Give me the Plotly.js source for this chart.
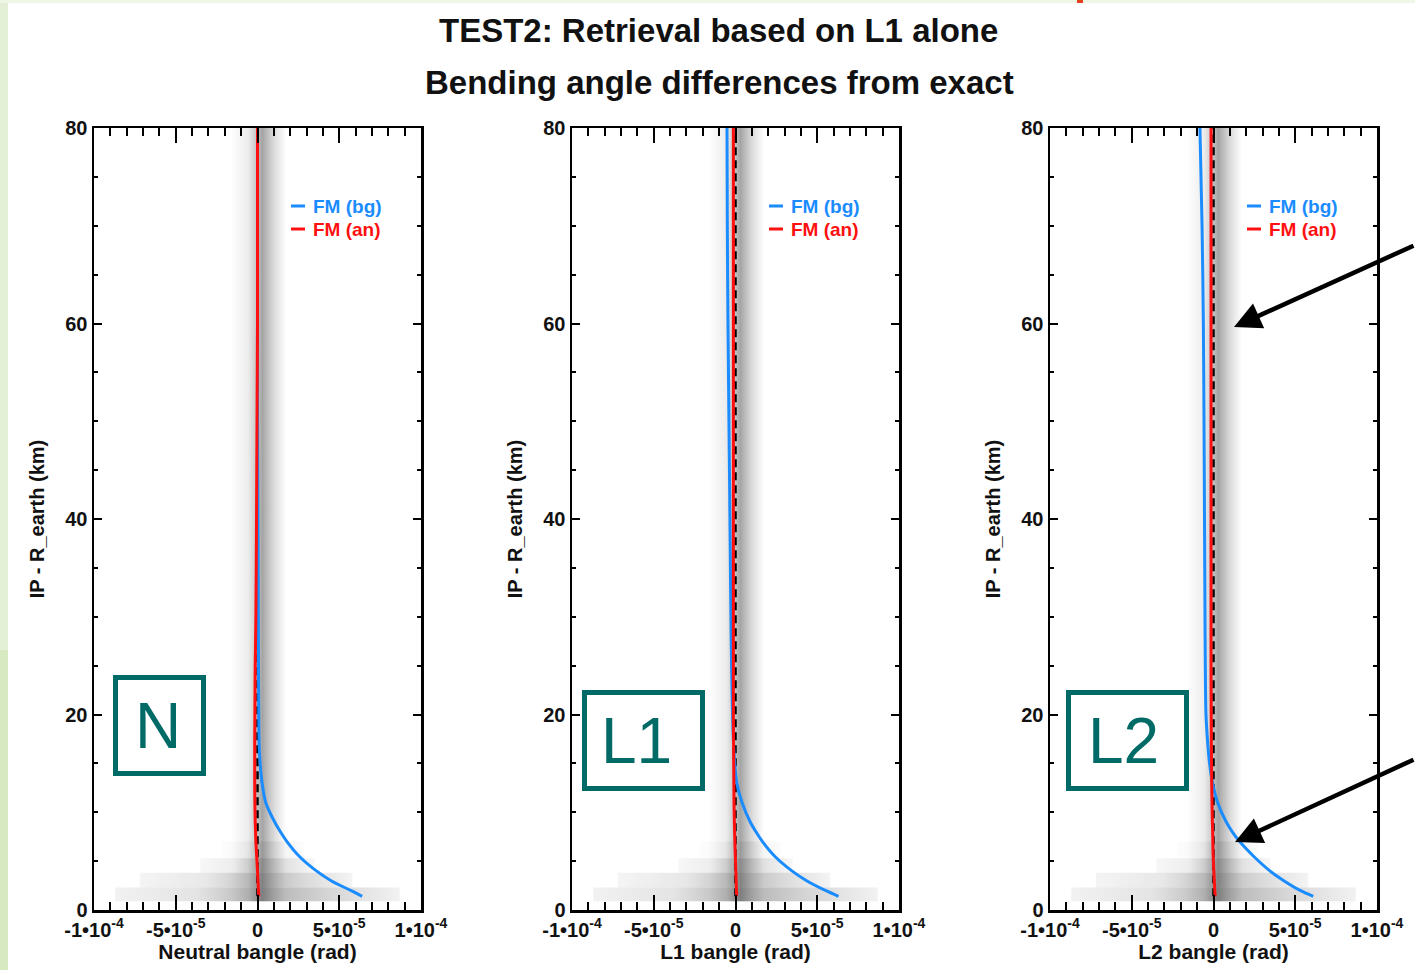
<!DOCTYPE html>
<html>
<head>
<meta charset="utf-8">
<script src="https://cdn.plot.ly/plotly-3.0.1.min.js"></script>
<style>
  html, body { margin: 0; padding: 0; background: #ffffff; }
  #chart { width: 1415px; height: 970px; }
</style>
</head>
<body>
<div id="chart"></div>
<script>
// ---------------- data ----------------
const altKm = [80, 70, 60, 50, 40, 30, 25, 20, 17, 15, 13, 11, 9, 8, 7, 5.5, 4, 3, 2, 1.4];

const nBg  = [0, 0, 0, 0, 0.3e-6, 0.5e-6, 0.6e-6, 0.8e-6, 1.0e-6, 1.6e-6, 2.8e-6, 5.0e-6, 1.05e-5, 1.4e-5, 1.8e-5, 2.55e-5, 3.6e-5, 4.5e-5, 5.7e-5, 6.4e-5];
const nAn  = [0, 0, 0, -0.3e-6, -0.6e-6, -1.0e-6, -1.4e-6, -1.6e-6, -1.7e-6, -1.7e-6, -1.7e-6, -1.6e-6, -1.4e-6, -1.2e-6, -1.0e-6, -0.5e-6, 0, 0.3e-6, 0.6e-6, 0.8e-6];

const l1Bg = [-5.2e-6, -5.0e-6, -4.6e-6, -4.0e-6, -3.4e-6, -2.8e-6, -2.4e-6, -1.8e-6, -1.2e-6, -0.5e-6, 0.8e-6, 4.0e-6, 9.0e-6, 1.25e-5, 1.65e-5, 2.4e-5, 3.45e-5, 4.35e-5, 5.5e-5, 6.3e-5];
const l1An = [-1.3e-6, -1.3e-6, -1.3e-6, -1.3e-6, -1.3e-6, -1.3e-6, -1.3e-6, -1.3e-6, -1.2e-6, -1.1e-6, -1.0e-6, -0.9e-6, -0.7e-6, -0.55e-6, -0.4e-6, -0.1e-6, 0.2e-6, 0.4e-6, 0.6e-6, 0.7e-6];

const l2Bg = [-8.3e-6, -7.0e-6, -6.2e-6, -5.8e-6, -5.5e-6, -5.2e-6, -5.0e-6, -4.6e-6, -3.5e-6, -2.4e-6, -0.6e-6, 2.5e-6, 7.8e-6, 1.15e-5, 1.6e-5, 2.45e-5, 3.45e-5, 4.3e-5, 5.3e-5, 6.1e-5];
const l2An = [-1.5e-6, -1.5e-6, -1.5e-6, -1.5e-6, -1.5e-6, -1.5e-6, -1.5e-6, -1.4e-6, -1.3e-6, -1.2e-6, -1.1e-6, -0.9e-6, -0.7e-6, -0.5e-6, -0.4e-6, -0.2e-6, 0.2e-6, 0.5e-6, 0.8e-6, 1.0e-6];

const zeroAlt = [1.4, 80];
const zeroVal = [0, 0];

// grey noise shading (vertical band + low-altitude bands)
const vBandAlt = [0.9, 80];
const vBandX = [-1.65e-5, 1.75e-5];
const noisePeak = 3e-6;
const bandY0 = [0.9, 2.3, 3.8, 5.3];
const bandY1 = [2.3, 3.8, 5.3, 7.0];
const bandX0 = [-8.7e-5, -7.2e-5, -3.5e-5, -2.2e-5];
const bandX1 = [8.7e-5, 5.8e-5, 3.5e-5, 2.8e-5];
const bandPeakAlpha = [0.5, 0.45, 0.35, 0.15];
const bandEdgeAlpha = [0.1, 0.08, 0.06, 0.02];

const xTickVals = [-1e-4, -5e-5, 0, 5e-5, 1e-4];
const xTickText = ['-1•10<sup>-4</sup>', '-5•10<sup>-5</sup>', '0', '5•10<sup>-5</sup>', '1•10<sup>-4</sup>'];

const panelLabels = ['N', 'L1', 'L2'];
const panelXTitles = ['Neutral bangle (rad)', 'L1 bangle (rad)', 'L2 bangle (rad)'];
const seriesNames = ['FM (bg)', 'FM (an)'];
const titleLines = ['TEST2: Retrieval based on L1 alone', 'Bending angle differences from exact'];
const yTitle = 'IP - R_earth (km)';

const panelBg = [nBg, l1Bg, l2Bg];
const panelAn = [nAn, l1An, l2An];

// ---------------- layout helpers ----------------
const W = 1415, H = 970;
const px = v => v / W;
const py = v => 1 - v / H;
const BLUE = '#1a8cff';
const RED = '#ff1010';
const TEAL = '#006b66';
const FONT = 'Liberation Sans, Arial, sans-serif';

const panelLeft = [94, 572, 1050];
const panelWidth = 327;
const plotTop = 128, plotBottom = 910;

const traces = [];
const rgba = (g, a) => `rgba(${g},${g},${g},${a})`;

function gradTrace(ax, x0, x1, y0, y1, peakA, edgeA) {
  const p = Math.min(0.95, Math.max(0.05, (noisePeak - x0) / (x1 - x0)));
  return {
    type: 'scatter', mode: 'lines',
    x: [x0, x1, x1, x0, x0], y: [y0, y0, y1, y1, y0],
    fill: 'toself', line: { width: 0, color: 'rgba(0,0,0,0)' },
    fillgradient: {
      type: 'horizontal',
      colorscale: [
        [0, rgba(120, edgeA)],
        [p * 0.55, rgba(120, edgeA + (peakA - edgeA) * 0.25)],
        [p, rgba(90, peakA)],
        [p + (1 - p) * 0.5, rgba(110, edgeA + (peakA - edgeA) * 0.45)],
        [1, rgba(120, edgeA)]
      ]
    },
    xaxis: 'x' + ax, yaxis: 'y' + ax, hoverinfo: 'skip', showlegend: false
  };
}

for (let i = 0; i < 3; i++) {
  const ax = i === 0 ? '' : String(i + 1);
  traces.push(gradTrace(ax, vBandX[0], vBandX[1], vBandAlt[0], vBandAlt[1], 0.55, 0.0));
  for (let b = 0; b < bandY0.length; b++) {
    traces.push(gradTrace(ax, bandX0[b], bandX1[b], bandY0[b], bandY1[b], bandPeakAlpha[b], bandEdgeAlpha[b]));
  }
  traces.push({
    type: 'scatter', mode: 'lines', x: zeroVal, y: zeroAlt,
    line: { color: '#000000', width: 2.5, dash: '8px,5px' },
    xaxis: 'x' + ax, yaxis: 'y' + ax, hoverinfo: 'skip', showlegend: false
  });
  traces.push({
    type: 'scatter', mode: 'lines', name: seriesNames[0], x: panelBg[i], y: altKm,
    line: { color: BLUE, width: 3, shape: 'spline', smoothing: 0.8 },
    xaxis: 'x' + ax, yaxis: 'y' + ax, showlegend: false
  });
  traces.push({
    type: 'scatter', mode: 'lines', name: seriesNames[1], x: panelAn[i], y: altKm,
    line: { color: RED, width: 3, shape: 'spline', smoothing: 0.8 },
    xaxis: 'x' + ax, yaxis: 'y' + ax, showlegend: false
  });
}

const layout = {
  width: W, height: H,
  margin: { l: 0, r: 0, t: 0, b: 0 },
  paper_bgcolor: '#ffffff', plot_bgcolor: '#ffffff',
  font: { family: FONT, color: '#111111' },
  showlegend: false,
  shapes: [],
  annotations: []
};

for (let i = 0; i < 3; i++) {
  const ax = i === 0 ? '' : String(i + 1);
  const xd = [px(panelLeft[i]), px(panelLeft[i] + panelWidth)];
  layout['xaxis' + ax] = {
    domain: xd, range: [-1e-4, 1e-4], anchor: 'y' + ax,
    showgrid: false, zeroline: false,
    showline: true, linecolor: '#000000', linewidth: 2.5, mirror: 'ticks',
    ticks: 'inside', ticklen: 15, tickwidth: 2, tickcolor: '#000000',
    tickvals: xTickVals, ticktext: xTickText,
    tickfont: { family: FONT, size: 20, weight: 700, color: '#111111' },
    minor: { dtick: 1e-5, tick0: 0, ticks: 'inside', ticklen: 8, tickwidth: 2, tickcolor: '#000000', showgrid: false },
    title: { text: panelXTitles[i], standoff: 2, font: { family: FONT, size: 21, weight: 700, color: '#111111' } },
    fixedrange: true
  };
  layout['yaxis' + ax] = {
    domain: [py(plotBottom), py(plotTop)], range: [0, 80], anchor: 'x' + ax,
    showgrid: false, zeroline: false,
    showline: true, linecolor: '#000000', linewidth: 2.5, mirror: 'ticks',
    ticks: 'inside', ticklen: 8, tickwidth: 2, tickcolor: '#000000',
    dtick: 20, tick0: 0,
    tickfont: { family: FONT, size: 20, weight: 700, color: '#111111' },
    minor: { dtick: 5, tick0: 0, ticks: 'inside', ticklen: 4, tickwidth: 2, tickcolor: '#000000', showgrid: false },
    title: { text: yTitle, standoff: 16, font: { family: FONT, size: 20, weight: 700, color: '#111111' } },
    fixedrange: true
  };

  // legend-like labels (short line + text)
  const base = panelLeft[i];
  const rows = [[206, BLUE, seriesNames[0]], [229, RED, seriesNames[1]]];
  rows.forEach(r => {
    layout.shapes.push({
      type: 'line', xref: 'paper', yref: 'paper',
      x0: px(base + 197), x1: px(base + 211), y0: py(r[0]), y1: py(r[0]),
      line: { color: r[1], width: 3 }
    });
    layout.annotations.push({
      xref: 'paper', yref: 'paper', x: px(base + 218), y: py(r[0]), xanchor: 'left', yanchor: 'middle',
      text: r[2], showarrow: false, borderpad: 0,
      font: { family: FONT, size: 19, weight: 700, color: r[1] }
    });
  });
}

// panel label boxes
const boxes = [
  { x0: 113, x1: 206, y0: 675, y1: 776, tx: 158, ty: 726 },
  { x0: 582, x1: 705, y0: 690, y1: 791, tx: 636, ty: 741 },
  { x0: 1066, x1: 1189, y0: 690, y1: 791, tx: 1123, ty: 741 }
];
boxes.forEach((b, i) => {
  layout.shapes.push({
    type: 'rect', xref: 'paper', yref: 'paper',
    x0: px(b.x0 + 2.5), x1: px(b.x1 - 2.5), y0: py(b.y1 - 2.5), y1: py(b.y0 + 2.5),
    line: { color: TEAL, width: 5 }, fillcolor: 'rgba(255,255,255,0)'
  });
  layout.annotations.push({
    xref: 'paper', yref: 'paper', x: px(b.tx), y: py(b.ty), xanchor: 'center', yanchor: 'middle',
    text: panelLabels[i], showarrow: false,
    font: { family: FONT, size: 64, color: TEAL }
  });
});

// titles
layout.annotations.push({
  xref: 'paper', yref: 'paper', x: px(718), y: py(31), xanchor: 'center', yanchor: 'middle',
  text: titleLines[0], showarrow: false,
  font: { family: 'Liberation Sans Narrow, Liberation Sans, Arial, sans-serif', size: 33, weight: 700, color: '#111111' }
});
layout.annotations.push({
  xref: 'paper', yref: 'paper', x: px(719), y: py(82), xanchor: 'center', yanchor: 'middle',
  text: titleLines[1], showarrow: false,
  font: { family: 'Liberation Sans Narrow, Liberation Sans, Arial, sans-serif', size: 33, weight: 700, color: '#111111' }
});

// arrows pointing into panel 3
layout.annotations.push({
  xref: 'paper', yref: 'paper', x: px(1234), y: py(327), text: '', showarrow: true,
  arrowhead: 2, arrowsize: 1.2, arrowwidth: 4.5, arrowcolor: '#000000', ax: 195, ay: -82, standoff: 0
});
layout.annotations.push({
  xref: 'paper', yref: 'paper', x: px(1235), y: py(842), text: '', showarrow: true,
  arrowhead: 2, arrowsize: 1.2, arrowwidth: 4.5, arrowcolor: '#000000', ax: 195, ay: -83, standoff: 0
});

// slide decoration (green left/top edges)
layout.shapes.push({ type: 'rect', xref: 'paper', yref: 'paper', x0: 0, x1: px(8), y0: 0, y1: 1, line: { width: 0 }, fillcolor: '#e4f0d6', layer: 'below' });
layout.shapes.push({ type: 'rect', xref: 'paper', yref: 'paper', x0: 0, x1: px(8), y0: 0, y1: py(650), line: { width: 0 }, fillcolor: '#d6e9c0', layer: 'below' });
layout.shapes.push({ type: 'rect', xref: 'paper', yref: 'paper', x0: 0, x1: 1, y0: py(3), y1: 1, line: { width: 0 }, fillcolor: '#eef6e6', layer: 'below' });
layout.shapes.push({ type: 'rect', xref: 'paper', yref: 'paper', x0: px(1077), x1: px(1083), y0: py(3), y1: 1, line: { width: 0 }, fillcolor: '#e04020', layer: 'below' });

Plotly.newPlot('chart', traces, layout, { displayModeBar: false, staticPlot: true });
</script>
</body>
</html>
